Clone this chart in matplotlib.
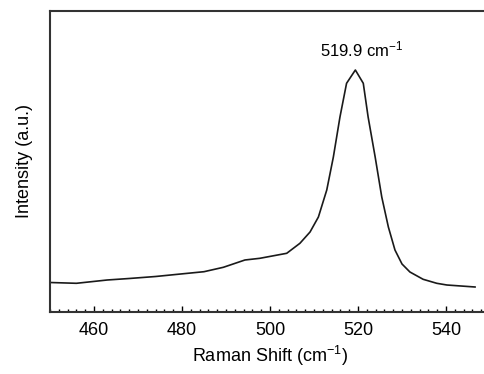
import matplotlib
matplotlib.use("Agg")
import matplotlib.pyplot as plt
from matplotlib.ticker import MultipleLocator

plt.rcParams['font.family'] = ['Liberation Sans', 'DejaVu Sans']
plt.rcParams['mathtext.default'] = 'regular'

wavenumber = [450, 456, 463, 468, 474, 479, 485, 489.4, 494.3, 497.7, 503.8, 506.8,
              509.1, 511.0, 512.9, 514.4, 515.9, 517.4, 519.4, 521.2, 522.3, 523.9,
              525.4, 526.9, 528.4, 530.0, 531.8, 534.8, 537.9, 540.2, 546.6]
intensity = [29.5, 28.7, 32, 33.5, 35.5, 37.7, 40.3, 44.7, 52, 53.7, 58.7, 68.7,
             80, 95, 122, 155, 195, 228.7, 242, 228.7, 195, 155,
             115, 85, 62, 48, 40, 32.7, 28.7, 27, 25]
xticks = [460, 480, 500, 520, 540]
peak_label = "519.9 cm$^{-1}$"

W, H = 485, 374
fig = plt.figure(figsize=(W / 100, H / 100), dpi=100)
ax = fig.add_axes([50 / W, (H - 312) / H, 440 / W, 301 / H])
ax.plot(wavenumber, intensity, color='#1a1a1a', lw=1.2)
ax.set_xlim(450, 550)
ax.set_ylim(0, 301)
ax.set_xticks(xticks)
ax.xaxis.set_minor_locator(MultipleLocator(2))
ax.tick_params(axis='x', which='major', direction='in', length=4, width=1, labelsize=13, pad=7)
ax.tick_params(axis='x', which='minor', direction='in', length=2, width=1)
ax.set_yticks([])
for s in ax.spines.values():
    s.set_linewidth(1.5)
    s.set_color('#333333')
ax.text(520.9, 263, peak_label, ha='center', va='center', fontsize=12)
ax.set_xlabel("Raman Shift (cm$^{-1}$)", fontsize=13, labelpad=4)
ax.set_ylabel("Intensity (a.u.)", fontsize=13, labelpad=12)
fig.savefig("out.png", dpi=100)
